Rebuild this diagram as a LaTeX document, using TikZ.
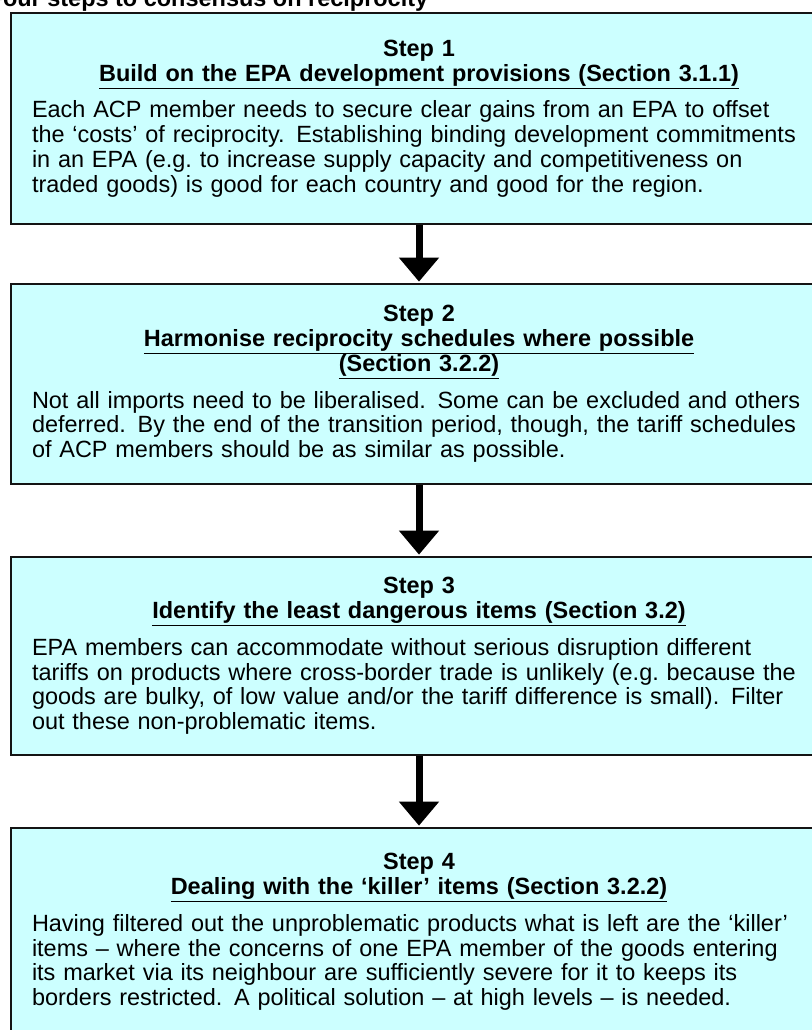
\documentclass[tikz,border=0pt]{standalone}
\usepackage{fontspec}
\setmainfont{Liberation Sans}
\usepackage{xcolor}
\usepackage{tikz}
\usetikzlibrary{arrows.meta,positioning}
\definecolor{stepfill}{RGB}{204,255,255}
\definecolor{stepline}{RGB}{20,20,20}
\hyphenpenalty=10000
\hbadness=10000

\begin{document}
\begin{tikzpicture}[x=0.75pt, y=-0.75pt, node distance=53.25pt,
    every node/.style={font=\fontsize{17.6pt}{18.6pt}\selectfont},
    stepbox/.style={draw=stepline, line width=1.5pt, fill=stepfill,
      text width=580.5pt, inner xsep=15.75pt, inner ysep=0pt, align=left},
    flow/.style={-{Triangle[width=29pt, length=18pt]}, line width=5.25pt, shorten >=1pt}]
  \useasboundingbox (0,0) rectangle (811,1030);
  \node[anchor=base west, font=\fontsize{17.6pt}{19pt}\selectfont\bfseries] (ttl) at (-16,7) {Four steps to consensus on reciprocity};
  \node[stepbox, anchor=north west, minimum height=158.25pt] (s1) at (10,12) {{\centering\bfseries Step 1\\ \underline{Build on the EPA development provisions (Section 3.1.1)}\par}\vspace{9pt}%
    Each ACP member needs to secure clear gains from an EPA to offset\\
    the ‘costs’ of reciprocity. Establishing binding development commitments\\
    in an EPA (e.g.\ to increase supply capacity and competitiveness on\\
    traded goods) is good for each country and good for the region.};
  \node[stepbox, minimum height=150pt, below=43.5pt of s1] (s2) {{\centering\bfseries Step 2\\ \underline{Harmonise reciprocity schedules where possible}\\ \underline{(Section 3.2.2)}\par}\vspace{9pt}%
    Not all imports need to be liberalised. Some can be excluded and others\\
    deferred. By the end of the transition period, though, the tariff schedules\\
    of ACP members should be as similar as possible.};
  \node[stepbox, minimum height=148.5pt, below=of s2] (s3) {{\centering\bfseries Step 3\\ \underline{Identify the least dangerous items (Section 3.2)}\par}\vspace{9pt}%
    EPA members can accommodate without serious disruption different\\
    tariffs on products where cross-border trade is unlikely (e.g.\ because the\\
    goods are bulky, of low value and/or the tariff difference is small). Filter\\
    out these non-problematic items.};
  \node[stepbox, minimum height=156pt, below=of s3] (s4) {{\centering\bfseries Step 4\\ \underline{Dealing with the ‘killer’ items (Section 3.2.2)}\par}\vspace{9pt}%
    Having filtered out the unproblematic products what is left are the ‘killer’\\
    items – where the concerns of one EPA member of the goods entering\\
    its market via its neighbour are sufficiently severe for it to keeps its\\
    borders restricted. A political solution – at high levels – is needed.};
  \draw[flow] (s1) -- (s2);
  \draw[flow] (s2) -- (s3);
  \draw[flow] (s3) -- (s4);
\end{tikzpicture}
\end{document}
